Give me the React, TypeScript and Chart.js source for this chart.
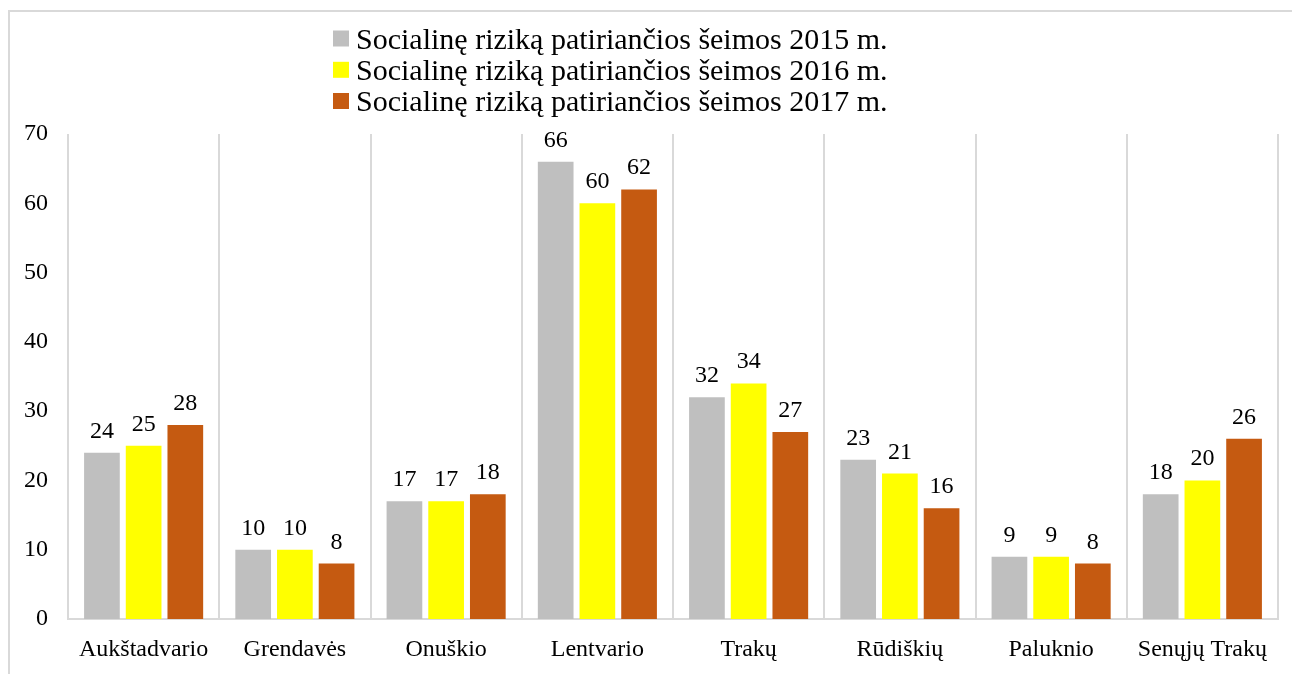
import React, { useEffect, useRef } from "react";
import { Chart, registerables } from "chart.js";

Chart.register(...registerables);

const categories = [
  "Aukštadvario",
  "Grendavės",
  "Onuškio",
  "Lentvario",
  "Trakų",
  "Rūdiškių",
  "Paluknio",
  "Senųjų Trakų",
];
const seriesLabels = [
  "Socialinę riziką patiriančios šeimos 2015 m.",
  "Socialinę riziką patiriančios šeimos 2016 m.",
  "Socialinę riziką patiriančios šeimos 2017 m.",
];
const values2015 = [24, 10, 17, 66, 32, 23, 9, 18];
const values2016 = [25, 10, 17, 60, 34, 21, 9, 20];
const values2017 = [28, 8, 18, 62, 27, 16, 8, 26];
const colors = ["#bfbfbf", "#ffff00", "#c55a11"];

const FONT = '"Liberation Serif", "Times New Roman", serif';

const valueLabels = {
  id: "valueLabels",
  afterDatasetsDraw(chart: any) {
    const ctx = chart.ctx;
    ctx.save();
    ctx.font = `24px ${FONT}`;
    ctx.fillStyle = "#000";
    ctx.textAlign = "center";
    ctx.textBaseline = "alphabetic";
    chart.data.datasets.forEach((ds: any, i: number) => {
      const meta = chart.getDatasetMeta(i);
      meta.data.forEach((el: any, j: number) => {
        ctx.fillText(String(ds.data[j]), el.x, el.y - 15);
      });
    });
    ctx.restore();
  },
};

const stackedLegend = {
  id: "stackedLegend",
  afterDraw(chart: any) {
    const ctx = chart.ctx;
    ctx.save();
    ctx.font = `30px ${FONT}`;
    ctx.textBaseline = "middle";
    ctx.textAlign = "left";
    const boxX = 323;
    const rowY = [26.5, 57.8, 89];
    chart.data.datasets.forEach((ds: any, i: number) => {
      const y = rowY[i];
      ctx.fillStyle = ds.backgroundColor;
      ctx.fillRect(boxX, y - 8, 16, 16);
      ctx.fillStyle = "#000";
      ctx.fillText(ds.label, boxX + 23, y + 2.5);
    });
    ctx.restore();
  },
};

export default function App() {
  const ref = useRef<HTMLCanvasElement>(null);
  useEffect(() => {
    if (!ref.current) return;
    const chart = new Chart(ref.current, {
      type: "bar",
      data: {
        labels: categories,
        datasets: [values2015, values2016, values2017].map((d, i) => ({
          label: seriesLabels[i],
          data: d,
          backgroundColor: colors[i],
          borderWidth: 0,
          barPercentage: 0.856,
          categoryPercentage: 0.827,
        })),
      },
      options: {
        animation: false,
        responsive: false,
        maintainAspectRatio: false,
        layout: { padding: { top: 122, right: 22, left: 0, bottom: 0 } },
        plugins: {
          legend: { display: false },
          tooltip: { enabled: false },
        },
        scales: {
          x: {
            grid: {
              display: true,
              offset: true,
              color: "#d9d9d9",
              lineWidth: 2,
              drawTicks: false,
            },
            border: { display: true, color: "#d9d9d9", width: 2 },
            ticks: {
              color: "#000",
              font: { family: FONT, size: 24 },
              padding: 16,
              maxRotation: 0,
              autoSkip: false,
            },
            afterFit(scale: any) {
              scale.height = 55;
            },
          },
          y: {
            min: 0,
            max: 70,
            ticks: {
              stepSize: 10,
              color: "#000",
              font: { family: FONT, size: 24 },
              padding: 20,
            },
            grid: { display: false, drawTicks: false },
            border: { display: false },
            afterFit(scale: any) {
              scale.width = 58;
            },
          },
        },
      },
      plugins: [valueLabels, stackedLegend],
    });
    return () => chart.destroy();
  }, []);
  return (
    <div
      style={{
        marginTop: 2,
        borderTop: "2px solid #d9d9d9",
        borderLeft: "2px solid #d9d9d9",
        width: 1290,
        height: 662,
        overflow: "hidden",
      }}
    >
      <canvas ref={ref} width={1290} height={662} style={{ display: "block" }} />
    </div>
  );
}
